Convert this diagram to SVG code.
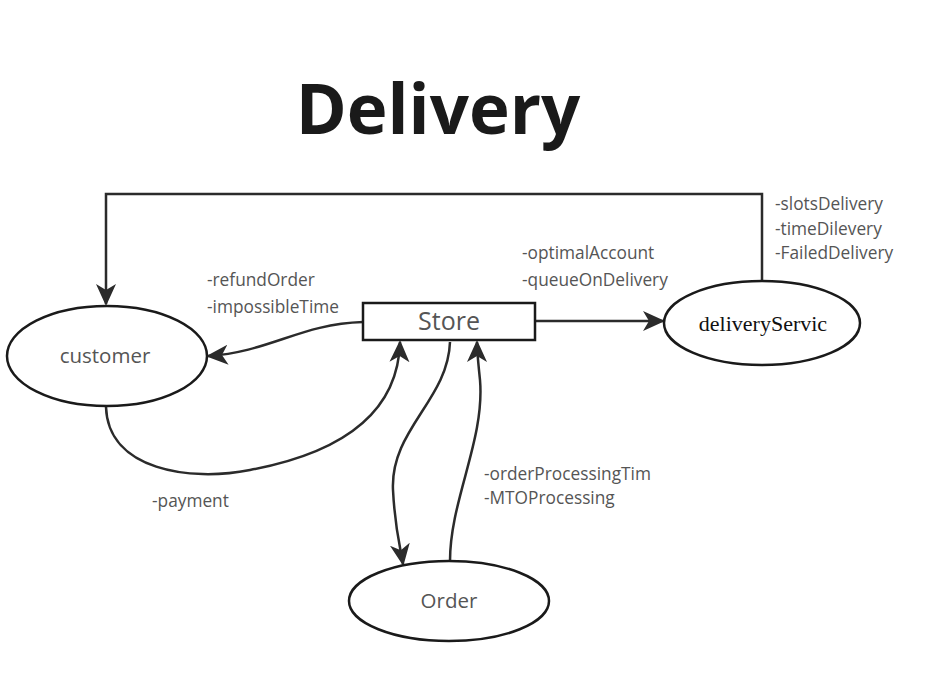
<svg xmlns="http://www.w3.org/2000/svg" width="940" height="685" viewBox="0 0 940 685">
<style>
.node{fill:#fff;stroke:#1a1a1a;stroke-width:2.5}
.conn{fill:none;stroke:#2b2b2b;stroke-width:2.5}
.lbl{font-family:"Open Sans","Noto Sans",sans-serif;font-size:17.3px;fill:#555}
.nt{font-family:"Open Sans","Noto Sans",sans-serif;font-size:20.5px;fill:#555;text-anchor:middle}
</style>
<defs>
<marker id="ah" viewBox="0 0 22 22" refX="20" refY="11" markerWidth="22" markerHeight="22" markerUnits="userSpaceOnUse" orient="auto">
<path d="M0,1 L22,11 L0,21 L6,11 Z" fill="#2b2b2b"/>
</marker>
</defs>
<rect width="940" height="685" fill="#fff"/>
<text x="438" y="134" font-family="'Open Sans','Noto Sans',sans-serif" font-weight="bold" font-size="69" fill="#1a1a1a" text-anchor="middle">Delivery</text>
<g id="connectors">
<path class="conn" d="M762,281 V194 H106 V304" marker-end="url(#ah)"/>
<path class="conn" d="M536,321 H663" marker-end="url(#ah)"/>
<path class="conn" d="M363,322 C300,324 270,352 208,356" marker-end="url(#ah)"/>
<path class="conn" d="M106,407 C108,470 190,482 250,470 C330,455 398,420 400,342" marker-end="url(#ah)"/>
<path class="conn" d="M450,342 C448,400 390,430 393,490 C395,530 400,545 403,564" marker-end="url(#ah)"/>
<path class="conn" d="M450,561 C450,500 485,440 480,380 C478,360 477,352 477,342" marker-end="url(#ah)"/>
</g>
<g id="customer">
<ellipse class="node" cx="107" cy="356" rx="100" ry="50"/>
<text class="nt" x="105" y="363">customer</text>
</g>
<g id="store">
<rect class="node" x="363" y="303" width="172" height="37"/>
<text class="nt" x="449" y="330" style="font-size:25px">Store</text>
</g>
<g id="deliveryServic">
<ellipse class="node" cx="762" cy="323" rx="98" ry="42"/>
<text x="763" y="331" font-family="'Liberation Serif',serif" font-size="22" fill="#111" text-anchor="middle">deliveryServic</text>
</g>
<g id="order">
<ellipse class="node" cx="449" cy="601" rx="100" ry="40"/>
<text class="nt" x="449" y="608">Order</text>
</g>
<g id="labels">
<text class="lbl" x="207" y="286">-refundOrder</text>
<text class="lbl" x="207" y="313">-impossibleTime</text>
<text class="lbl" x="522" y="259">-optimalAccount</text>
<text class="lbl" x="522" y="286">-queueOnDelivery</text>
<text class="lbl" x="775" y="210">-slotsDelivery</text>
<text class="lbl" x="775" y="235">-timeDilevery</text>
<text class="lbl" x="775" y="259">-FailedDelivery</text>
<text class="lbl" x="152" y="507">-payment</text>
<text class="lbl" x="484" y="480">-orderProcessingTim</text>
<text class="lbl" x="484" y="504">-MTOProcessing</text>
</g>
</svg>
